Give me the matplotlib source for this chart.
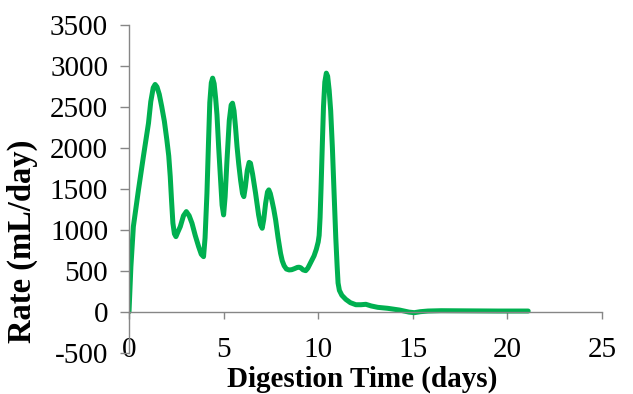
import numpy as np
import matplotlib
matplotlib.use('Agg')
import matplotlib.pyplot as plt

# Biogas rate readings
days = [0, 0.1, 0.23, 0.5, 0.76, 1.03, 1.15, 1.28, 1.38, 1.48, 1.6, 1.73, 1.87,
        2.0, 2.1, 2.18, 2.25, 2.32, 2.4, 2.48, 2.6, 2.71, 2.88, 3.03, 3.18,
        3.33, 3.5, 3.68, 3.82, 3.94, 4.02, 4.12, 4.2, 4.27, 4.35, 4.42, 4.5,
        4.58, 4.65, 4.74, 4.83, 4.92, 5.0, 5.08, 5.18, 5.3, 5.4, 5.47, 5.55,
        5.63, 5.71, 5.8, 5.9, 6.0, 6.07, 6.15, 6.25, 6.35, 6.42, 6.53, 6.69,
        6.85, 6.95, 7.04, 7.12, 7.22, 7.32, 7.39, 7.47, 7.55, 7.65, 7.75, 7.88,
        8.01, 8.1, 8.2, 8.32, 8.46, 8.6, 8.75, 8.9, 8.99, 9.08, 9.2, 9.34,
        9.45, 9.55, 9.67, 9.78, 9.9, 10.0, 10.05, 10.1, 10.15, 10.22, 10.28,
        10.35, 10.43, 10.5, 10.58, 10.66, 10.75, 10.84, 10.93, 11.0, 11.05,
        11.12, 11.25, 11.46, 11.7, 11.99, 12.26, 12.52, 12.8, 13.15, 13.68,
        14.3, 14.8, 15.08, 15.4, 15.8, 16.5, 18, 19.5, 21.1]
rate = [0, 550, 1037, 1485, 1891, 2298, 2560, 2730, 2770, 2740, 2650, 2500, 2320,
        2095, 1900, 1647, 1350, 1080, 950, 915, 980, 1037, 1170, 1220, 1170,
        1078, 930, 793, 700, 671, 900, 1444, 2050, 2550, 2790, 2847, 2780,
        2600, 2400, 2000, 1647, 1300, 1180, 1400, 1850, 2330, 2520, 2542, 2450,
        2250, 2013, 1800, 1600, 1440, 1403, 1520, 1720, 1820, 1810, 1680, 1444,
        1180, 1060, 1017, 1120, 1320, 1460, 1485, 1440, 1360, 1250, 1119, 900,
        712, 620, 560, 520, 509, 512, 525, 540, 542, 535, 510, 500,
        530, 575, 630, 680, 760, 850, 930, 1150, 1500, 2054, 2500,
        2800, 2908, 2870, 2700, 2450, 2000, 1444, 900, 560, 350,
        260, 200, 150, 110, 85, 85, 90, 70, 53, 41,
        20, -5, -12, 0, 8, 12, 10, 8, 8]

x_ticks = [0, 5, 10, 15, 20, 25]
y_ticks = [-500, 0, 500, 1000, 1500, 2000, 2500, 3000, 3500]

plt.rcParams['font.family'] = ['Liberation Serif', 'DejaVu Serif']
plt.rcParams['axes.unicode_minus'] = False
axis_grey = '#868686'

fig = plt.figure(figsize=(6.33, 3.94), dpi=100)
ax = fig.add_axes([0.2038, 0.1048, 0.7472, 0.8328])

ax.plot(days, rate, color='#00B050', linewidth=3.6,
        solid_joinstyle='round', solid_capstyle='round')

ax.set_xlim(0, 25)
ax.set_ylim(-500, 3500)
ax.set_xticks(x_ticks)
ax.set_yticks(y_ticks)

for side in ['top', 'right']:
    ax.spines[side].set_visible(False)
ax.spines['bottom'].set_position(('data', 0))
for side in ['bottom', 'left']:
    ax.spines[side].set_color(axis_grey)
    ax.spines[side].set_linewidth(1.0)

ax.tick_params(axis='x', direction='out', length=5, width=1.0, color=axis_grey,
               labelsize=21, pad=13.5)
ax.tick_params(axis='y', direction='out', length=6.5, width=1.0, color=axis_grey,
               labelsize=21, pad=8.5)

ax.set_xlabel('Digestion Time (days)', fontsize=21, fontweight='bold')
ax.set_ylabel('Rate (mL/day)', fontsize=23.5, fontweight='bold')
ax.xaxis.set_label_coords(0.494, -0.04)
ax.yaxis.set_label_coords(-0.192, 0.34)

fig.savefig('out.png', dpi=100)
